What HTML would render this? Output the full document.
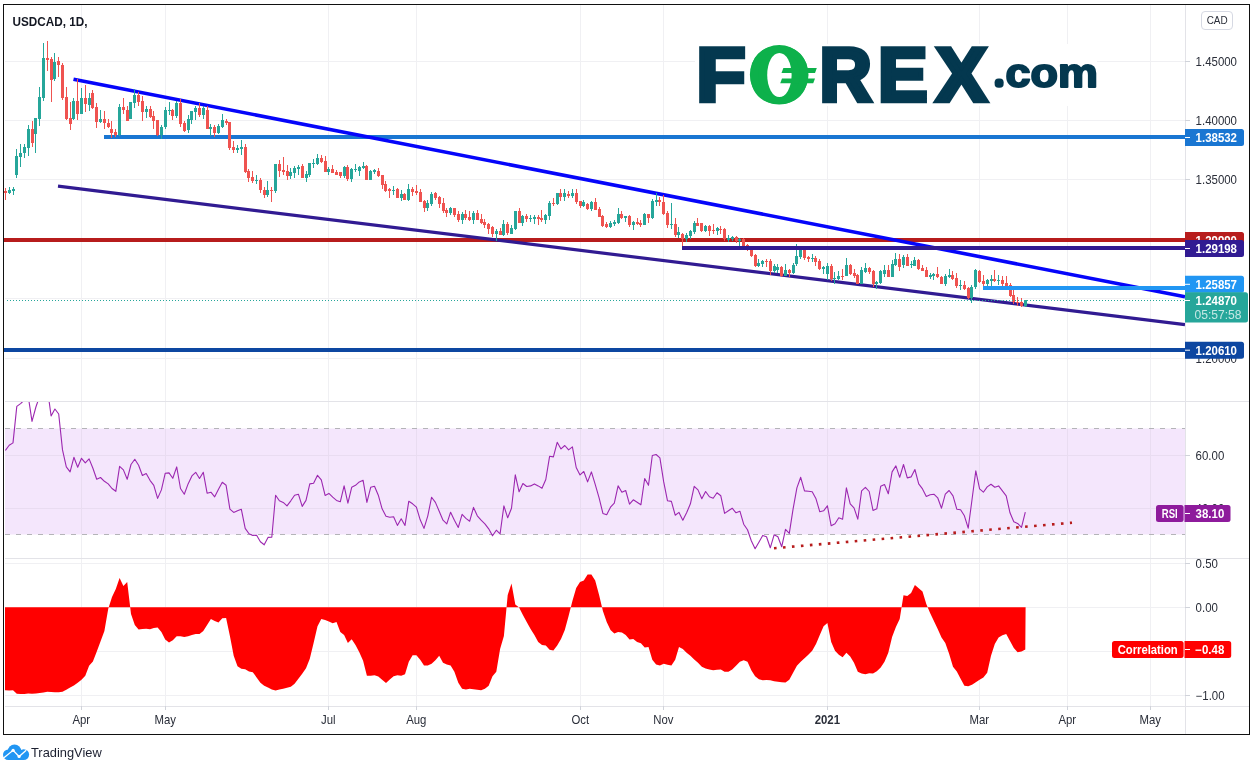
<!DOCTYPE html>
<html lang="en"><head><meta charset="utf-8"><title>USDCAD 1D</title>
<style>html,body{margin:0;padding:0;background:#fff;}body{width:1256px;height:771px;overflow:hidden;font-family:"Liberation Sans",Arial,sans-serif;}svg{display:block;}</style>
</head><body>
<svg width="1256" height="771" viewBox="0 0 1256 771" font-family="Liberation Sans, Arial, sans-serif" shape-rendering="auto">
<rect x="0" y="0" width="1256" height="771" fill="#ffffff"/>
<g id="grid" shape-rendering="crispEdges">
<rect x="81" y="5" width="1" height="701" fill="#f0f0f3"/>
<rect x="165" y="5" width="1" height="701" fill="#f0f0f3"/>
<rect x="328" y="5" width="1" height="701" fill="#f0f0f3"/>
<rect x="416" y="5" width="1" height="701" fill="#f0f0f3"/>
<rect x="580" y="5" width="1" height="701" fill="#f0f0f3"/>
<rect x="663" y="5" width="1" height="701" fill="#f0f0f3"/>
<rect x="827" y="5" width="1" height="701" fill="#f0f0f3"/>
<rect x="979" y="5" width="1" height="701" fill="#f0f0f3"/>
<rect x="1067" y="5" width="1" height="701" fill="#f0f0f3"/>
<rect x="1150" y="5" width="1" height="701" fill="#f0f0f3"/>
<rect x="5" y="61" width="1180" height="1" fill="#f0f0f3"/>
<rect x="5" y="120" width="1180" height="1" fill="#f0f0f3"/>
<rect x="5" y="179" width="1180" height="1" fill="#f0f0f3"/>
<rect x="5" y="239" width="1180" height="1" fill="#f0f0f3"/>
<rect x="5" y="298" width="1180" height="1" fill="#f0f0f3"/>
<rect x="5" y="358" width="1180" height="1" fill="#f0f0f3"/>
<rect x="5" y="455" width="1180" height="1" fill="#f0f0f3"/>
<rect x="5" y="508" width="1180" height="1" fill="#f0f0f3"/>
<rect x="5" y="563" width="1180" height="1" fill="#f0f0f3"/>
<rect x="5" y="607" width="1180" height="1" fill="#f0f0f3"/>
<rect x="5" y="651" width="1180" height="1" fill="#f0f0f3"/>
<rect x="5" y="695" width="1180" height="1" fill="#f0f0f3"/>
</g>
<g id="logo">
<rect x="695" y="44" width="402" height="62" fill="#ffffff"/>
<ellipse cx="779.2" cy="74.7" rx="29.3" ry="29.7" fill="#0db14b"/><ellipse cx="779.4" cy="75" rx="12.2" ry="22.1" fill="#ffffff"/><polygon points="783.4,68 816.8,68 815,72.9 781.5,72.9" fill="#0db14b"/><polygon points="782,78.4 815,78.4 813.2,83.3 780.2,83.3" fill="#0db14b"/><text id="forexlogo"><tspan x="696.38" y="101.0" font-size="76.14" font-weight="bold" fill="#04384f" stroke="#04384f" stroke-width="4.7" stroke-linejoin="miter" textLength="49.37" lengthAdjust="spacingAndGlyphs">F</tspan><tspan x="746.51" y="103.05" font-size="82.21" font-weight="normal" fill="#0db14b" textLength="65.32" lengthAdjust="spacingAndGlyphs">O</tspan><tspan x="819.48" y="101.0" font-size="76.14" font-weight="bold" fill="#04384f" stroke="#04384f" stroke-width="4.7" stroke-linejoin="miter" textLength="52.32" lengthAdjust="spacingAndGlyphs">R</tspan><tspan x="878.11" y="101.0" font-size="76.14" font-weight="bold" fill="#04384f" stroke="#04384f" stroke-width="4.7" stroke-linejoin="miter" textLength="49.61" lengthAdjust="spacingAndGlyphs">E</tspan><tspan x="936.0" y="101.0" font-size="76.14" font-weight="bold" fill="#04384f" stroke="#04384f" stroke-width="4.7" stroke-linejoin="miter" textLength="50.83" lengthAdjust="spacingAndGlyphs">X</tspan><tspan x="997.8" y="83.95" font-size="10.0" font-weight="bold" fill="#04384f" stroke="#04384f" stroke-width="7.6" stroke-linejoin="round" textLength="2.78" lengthAdjust="spacingAndGlyphs">.</tspan><tspan x="1005.64" y="86.75" font-size="39.9" font-weight="bold" fill="#04384f" stroke="#04384f" stroke-width="2.0" stroke-linejoin="round" textLength="92.39" lengthAdjust="spacingAndGlyphs">com</tspan></text>
</g>
<g id="rsi">
<rect x="5" y="428.5" width="1180" height="106" fill="#f4e6fc"/>
<g shape-rendering="crispEdges">
<rect x="5" y="455" width="1180" height="1" fill="#e9dcf1"/>
<rect x="5" y="508" width="1180" height="1" fill="#e9dcf1"/>
<rect x="81" y="429" width="1" height="105" fill="#e9dcf1"/>
<rect x="165" y="429" width="1" height="105" fill="#e9dcf1"/>
<rect x="328" y="429" width="1" height="105" fill="#e9dcf1"/>
<rect x="416" y="429" width="1" height="105" fill="#e9dcf1"/>
<rect x="580" y="429" width="1" height="105" fill="#e9dcf1"/>
<rect x="663" y="429" width="1" height="105" fill="#e9dcf1"/>
<rect x="827" y="429" width="1" height="105" fill="#e9dcf1"/>
<rect x="979" y="429" width="1" height="105" fill="#e9dcf1"/>
<rect x="1067" y="429" width="1" height="105" fill="#e9dcf1"/>
<rect x="1150" y="429" width="1" height="105" fill="#e9dcf1"/>
</g>
<line x1="5" y1="428.5" x2="1185" y2="428.5" stroke="#b4b4b8" stroke-width="1" stroke-dasharray="5 6"/>
<line x1="5" y1="534.5" x2="1185" y2="534.5" stroke="#b4b4b8" stroke-width="1" stroke-dasharray="5 6"/>
</g>
<rect x="4" y="238" width="1181" height="4" fill="#b71c1c"/>
<rect x="104" y="135" width="1081" height="4" fill="#1976d2"/>
<line x1="73.5" y1="79.3" x2="1185" y2="296.8" stroke="#0505fa" stroke-width="3.6"/>
<line x1="58" y1="186.2" x2="1185" y2="324.6" stroke="#311b92" stroke-width="3.2"/>
<g id="candles" shape-rendering="crispEdges">
<rect x="5" y="187.5" width="1" height="12.8" fill="#ef5350"/>
<rect x="4" y="191.0" width="3" height="2.3" fill="#ef5350"/>
<rect x="9" y="186.8" width="1" height="7.0" fill="#26a69a"/>
<rect x="8" y="189.9" width="3" height="3.5" fill="#26a69a"/>
<rect x="13" y="186.8" width="1" height="7.7" fill="#26a69a"/>
<rect x="12" y="189.4" width="3" height="1.6" fill="#26a69a"/>
<rect x="16" y="149.0" width="1" height="28.7" fill="#26a69a"/>
<rect x="15" y="156.0" width="3" height="18.7" fill="#26a69a"/>
<rect x="20" y="144.4" width="1" height="22.2" fill="#26a69a"/>
<rect x="19" y="152.5" width="3" height="4.7" fill="#26a69a"/>
<rect x="24" y="143.9" width="1" height="14.5" fill="#26a69a"/>
<rect x="23" y="147.4" width="3" height="5.6" fill="#26a69a"/>
<rect x="28" y="124.5" width="1" height="31.5" fill="#26a69a"/>
<rect x="27" y="129.2" width="3" height="18.7" fill="#26a69a"/>
<rect x="32" y="121.0" width="1" height="25.7" fill="#ef5350"/>
<rect x="31" y="128.7" width="3" height="14.5" fill="#ef5350"/>
<rect x="35" y="118.0" width="1" height="34.5" fill="#26a69a"/>
<rect x="34" y="118.0" width="3" height="15.9" fill="#26a69a"/>
<rect x="39" y="87.2" width="1" height="38.5" fill="#26a69a"/>
<rect x="38" y="96.5" width="3" height="22.2" fill="#26a69a"/>
<rect x="43" y="42.8" width="1" height="58.3" fill="#26a69a"/>
<rect x="42" y="58.0" width="3" height="39.7" fill="#26a69a"/>
<rect x="47" y="41.0" width="1" height="29.9" fill="#ef5350"/>
<rect x="46" y="58.0" width="3" height="1.9" fill="#ef5350"/>
<rect x="51" y="56.8" width="1" height="45.5" fill="#ef5350"/>
<rect x="50" y="59.2" width="3" height="21.0" fill="#ef5350"/>
<rect x="54" y="52.9" width="1" height="28.0" fill="#26a69a"/>
<rect x="53" y="61.5" width="3" height="17.5" fill="#26a69a"/>
<rect x="58" y="56.8" width="1" height="19.8" fill="#ef5350"/>
<rect x="57" y="61.0" width="3" height="4.4" fill="#ef5350"/>
<rect x="62" y="62.7" width="1" height="37.3" fill="#ef5350"/>
<rect x="61" y="64.5" width="3" height="33.1" fill="#ef5350"/>
<rect x="66" y="87.2" width="1" height="32.7" fill="#ef5350"/>
<rect x="65" y="97.2" width="3" height="21.9" fill="#ef5350"/>
<rect x="70" y="102.3" width="1" height="27.5" fill="#ef5350"/>
<rect x="69" y="117.5" width="3" height="6.3" fill="#ef5350"/>
<rect x="73" y="98.1" width="1" height="21.7" fill="#26a69a"/>
<rect x="72" y="101.2" width="3" height="17.5" fill="#26a69a"/>
<rect x="77" y="79.0" width="1" height="40.8" fill="#ef5350"/>
<rect x="76" y="101.2" width="3" height="12.4" fill="#ef5350"/>
<rect x="81" y="87.9" width="1" height="26.1" fill="#26a69a"/>
<rect x="80" y="98.1" width="3" height="15.4" fill="#26a69a"/>
<rect x="85" y="84.8" width="1" height="26.8" fill="#ef5350"/>
<rect x="84" y="98.1" width="3" height="6.1" fill="#ef5350"/>
<rect x="89" y="93.0" width="1" height="17.5" fill="#26a69a"/>
<rect x="88" y="97.7" width="3" height="7.0" fill="#26a69a"/>
<rect x="92" y="89.5" width="1" height="19.8" fill="#ef5350"/>
<rect x="91" y="93.0" width="3" height="14.5" fill="#ef5350"/>
<rect x="96" y="102.8" width="1" height="25.2" fill="#ef5350"/>
<rect x="95" y="106.5" width="3" height="15.6" fill="#ef5350"/>
<rect x="100" y="110.0" width="1" height="12.8" fill="#26a69a"/>
<rect x="99" y="118.7" width="3" height="3.5" fill="#26a69a"/>
<rect x="104" y="111.0" width="1" height="18.2" fill="#ef5350"/>
<rect x="103" y="118.7" width="3" height="4.7" fill="#ef5350"/>
<rect x="108" y="119.4" width="1" height="8.6" fill="#ef5350"/>
<rect x="107" y="123.3" width="3" height="3.5" fill="#ef5350"/>
<rect x="111" y="120.5" width="1" height="17.3" fill="#ef5350"/>
<rect x="110" y="129.2" width="3" height="3.5" fill="#ef5350"/>
<rect x="115" y="129.2" width="1" height="7.7" fill="#ef5350"/>
<rect x="114" y="132.0" width="3" height="3.0" fill="#ef5350"/>
<rect x="119" y="104.2" width="1" height="32.0" fill="#26a69a"/>
<rect x="118" y="107.0" width="3" height="28.0" fill="#26a69a"/>
<rect x="123" y="98.4" width="1" height="15.1" fill="#ef5350"/>
<rect x="122" y="107.2" width="3" height="3.1" fill="#ef5350"/>
<rect x="127" y="106.4" width="1" height="14.3" fill="#ef5350"/>
<rect x="126" y="110.3" width="3" height="10.4" fill="#ef5350"/>
<rect x="130" y="102.2" width="1" height="16.6" fill="#26a69a"/>
<rect x="129" y="102.2" width="3" height="16.3" fill="#26a69a"/>
<rect x="134" y="89.3" width="1" height="18.4" fill="#26a69a"/>
<rect x="133" y="95.1" width="3" height="7.5" fill="#26a69a"/>
<rect x="138" y="92.1" width="1" height="14.3" fill="#ef5350"/>
<rect x="137" y="95.1" width="3" height="6.7" fill="#ef5350"/>
<rect x="142" y="96.0" width="1" height="24.7" fill="#ef5350"/>
<rect x="141" y="101.0" width="3" height="10.6" fill="#ef5350"/>
<rect x="146" y="106.1" width="1" height="11.7" fill="#26a69a"/>
<rect x="145" y="108.8" width="3" height="3.1" fill="#26a69a"/>
<rect x="150" y="106.1" width="1" height="11.7" fill="#ef5350"/>
<rect x="149" y="108.8" width="3" height="7.8" fill="#ef5350"/>
<rect x="153" y="111.1" width="1" height="17.4" fill="#ef5350"/>
<rect x="152" y="116.1" width="3" height="4.7" fill="#ef5350"/>
<rect x="157" y="120.1" width="1" height="15.6" fill="#ef5350"/>
<rect x="156" y="120.1" width="3" height="14.6" fill="#ef5350"/>
<rect x="161" y="125.1" width="1" height="13.7" fill="#26a69a"/>
<rect x="160" y="126.7" width="3" height="8.1" fill="#26a69a"/>
<rect x="165" y="106.9" width="1" height="22.1" fill="#26a69a"/>
<rect x="164" y="110.0" width="3" height="17.4" fill="#26a69a"/>
<rect x="169" y="102.2" width="1" height="12.8" fill="#26a69a"/>
<rect x="168" y="109.6" width="3" height="1.1" fill="#26a69a"/>
<rect x="172" y="108.8" width="1" height="10.9" fill="#ef5350"/>
<rect x="171" y="110.0" width="3" height="5.8" fill="#ef5350"/>
<rect x="176" y="101.0" width="1" height="16.8" fill="#26a69a"/>
<rect x="175" y="102.6" width="3" height="13.5" fill="#26a69a"/>
<rect x="180" y="99.0" width="1" height="27.7" fill="#ef5350"/>
<rect x="179" y="103.0" width="3" height="20.8" fill="#ef5350"/>
<rect x="184" y="121.2" width="1" height="10.4" fill="#ef5350"/>
<rect x="183" y="123.2" width="3" height="7.3" fill="#ef5350"/>
<rect x="188" y="115.3" width="1" height="17.6" fill="#26a69a"/>
<rect x="187" y="119.2" width="3" height="10.3" fill="#26a69a"/>
<rect x="191" y="111.1" width="1" height="12.4" fill="#26a69a"/>
<rect x="190" y="111.1" width="3" height="8.6" fill="#26a69a"/>
<rect x="195" y="106.1" width="1" height="13.5" fill="#26a69a"/>
<rect x="194" y="108.0" width="3" height="3.6" fill="#26a69a"/>
<rect x="199" y="102.9" width="1" height="14.0" fill="#ef5350"/>
<rect x="198" y="108.0" width="3" height="7.0" fill="#ef5350"/>
<rect x="203" y="106.1" width="1" height="12.8" fill="#26a69a"/>
<rect x="202" y="108.0" width="3" height="7.0" fill="#26a69a"/>
<rect x="207" y="106.1" width="1" height="22.9" fill="#ef5350"/>
<rect x="206" y="109.9" width="3" height="18.7" fill="#ef5350"/>
<rect x="210" y="124.3" width="1" height="12.0" fill="#26a69a"/>
<rect x="209" y="127.4" width="3" height="1.6" fill="#26a69a"/>
<rect x="214" y="125.1" width="1" height="11.7" fill="#ef5350"/>
<rect x="213" y="127.1" width="3" height="5.8" fill="#ef5350"/>
<rect x="218" y="124.0" width="1" height="10.0" fill="#26a69a"/>
<rect x="217" y="125.9" width="3" height="7.0" fill="#26a69a"/>
<rect x="222" y="114.2" width="1" height="13.5" fill="#26a69a"/>
<rect x="221" y="120.1" width="3" height="6.5" fill="#26a69a"/>
<rect x="226" y="118.9" width="1" height="6.2" fill="#ef5350"/>
<rect x="225" y="121.2" width="3" height="1.6" fill="#ef5350"/>
<rect x="229" y="122.0" width="1" height="27.7" fill="#ef5350"/>
<rect x="228" y="122.0" width="3" height="26.0" fill="#ef5350"/>
<rect x="233" y="141.1" width="1" height="11.7" fill="#ef5350"/>
<rect x="232" y="146.9" width="3" height="3.4" fill="#ef5350"/>
<rect x="237" y="145.3" width="1" height="7.5" fill="#26a69a"/>
<rect x="236" y="148.4" width="3" height="1.9" fill="#26a69a"/>
<rect x="241" y="140.2" width="1" height="14.5" fill="#26a69a"/>
<rect x="240" y="147.4" width="3" height="1.9" fill="#26a69a"/>
<rect x="245" y="144.1" width="1" height="29.2" fill="#ef5350"/>
<rect x="244" y="146.9" width="3" height="24.9" fill="#ef5350"/>
<rect x="248" y="169.1" width="1" height="12.8" fill="#ef5350"/>
<rect x="247" y="171.0" width="3" height="6.7" fill="#ef5350"/>
<rect x="252" y="171.2" width="1" height="11.7" fill="#ef5350"/>
<rect x="251" y="177.4" width="3" height="3.3" fill="#ef5350"/>
<rect x="256" y="175.1" width="1" height="8.9" fill="#26a69a"/>
<rect x="255" y="179.6" width="3" height="1.4" fill="#26a69a"/>
<rect x="260" y="178.2" width="1" height="14.8" fill="#ef5350"/>
<rect x="259" y="179.8" width="3" height="10.4" fill="#ef5350"/>
<rect x="264" y="187.1" width="1" height="10.9" fill="#ef5350"/>
<rect x="263" y="190.0" width="3" height="5.2" fill="#ef5350"/>
<rect x="267" y="181.1" width="1" height="15.8" fill="#26a69a"/>
<rect x="266" y="190.0" width="3" height="5.2" fill="#26a69a"/>
<rect x="271" y="187.1" width="1" height="14.8" fill="#ef5350"/>
<rect x="270" y="190.0" width="3" height="1.1" fill="#ef5350"/>
<rect x="275" y="164.0" width="1" height="29.0" fill="#26a69a"/>
<rect x="274" y="164.0" width="3" height="27.1" fill="#26a69a"/>
<rect x="279" y="160.1" width="1" height="16.7" fill="#ef5350"/>
<rect x="278" y="164.0" width="3" height="7.0" fill="#ef5350"/>
<rect x="283" y="157.1" width="1" height="17.7" fill="#ef5350"/>
<rect x="282" y="170.1" width="3" height="2.0" fill="#ef5350"/>
<rect x="287" y="165.1" width="1" height="14.8" fill="#ef5350"/>
<rect x="286" y="171.0" width="3" height="5.2" fill="#ef5350"/>
<rect x="290" y="168.1" width="1" height="10.9" fill="#26a69a"/>
<rect x="289" y="171.8" width="3" height="4.1" fill="#26a69a"/>
<rect x="294" y="166.0" width="1" height="11.9" fill="#26a69a"/>
<rect x="293" y="167.9" width="3" height="5.0" fill="#26a69a"/>
<rect x="298" y="165.1" width="1" height="9.8" fill="#26a69a"/>
<rect x="297" y="167.1" width="3" height="1.7" fill="#26a69a"/>
<rect x="302" y="164.0" width="1" height="13.9" fill="#ef5350"/>
<rect x="301" y="165.9" width="3" height="12.0" fill="#ef5350"/>
<rect x="306" y="171.0" width="1" height="10.8" fill="#26a69a"/>
<rect x="305" y="174.0" width="3" height="3.7" fill="#26a69a"/>
<rect x="309" y="163.1" width="1" height="13.7" fill="#26a69a"/>
<rect x="308" y="163.1" width="3" height="12.0" fill="#26a69a"/>
<rect x="313" y="159.0" width="1" height="8.9" fill="#26a69a"/>
<rect x="312" y="162.7" width="3" height="1.3" fill="#26a69a"/>
<rect x="317" y="154.0" width="1" height="11.1" fill="#26a69a"/>
<rect x="316" y="157.9" width="3" height="6.1" fill="#26a69a"/>
<rect x="321" y="155.1" width="1" height="8.0" fill="#ef5350"/>
<rect x="320" y="158.1" width="3" height="3.7" fill="#ef5350"/>
<rect x="325" y="156.2" width="1" height="15.6" fill="#ef5350"/>
<rect x="324" y="161.2" width="3" height="10.6" fill="#ef5350"/>
<rect x="328" y="167.1" width="1" height="7.8" fill="#26a69a"/>
<rect x="327" y="169.0" width="3" height="3.1" fill="#26a69a"/>
<rect x="332" y="165.1" width="1" height="7.8" fill="#ef5350"/>
<rect x="331" y="169.0" width="3" height="3.9" fill="#ef5350"/>
<rect x="336" y="170.1" width="1" height="4.7" fill="#ef5350"/>
<rect x="335" y="171.8" width="3" height="3.0" fill="#ef5350"/>
<rect x="340" y="172.1" width="1" height="5.8" fill="#ef5350"/>
<rect x="339" y="172.1" width="3" height="3.8" fill="#ef5350"/>
<rect x="344" y="165.9" width="1" height="12.0" fill="#26a69a"/>
<rect x="343" y="167.1" width="3" height="8.8" fill="#26a69a"/>
<rect x="347" y="165.1" width="1" height="15.8" fill="#ef5350"/>
<rect x="346" y="167.1" width="3" height="11.7" fill="#ef5350"/>
<rect x="351" y="167.9" width="1" height="14.2" fill="#26a69a"/>
<rect x="350" y="169.0" width="3" height="10.0" fill="#26a69a"/>
<rect x="355" y="164.0" width="1" height="7.8" fill="#26a69a"/>
<rect x="354" y="168.8" width="3" height="1.1" fill="#26a69a"/>
<rect x="359" y="165.9" width="1" height="10.0" fill="#26a69a"/>
<rect x="358" y="167.1" width="3" height="3.6" fill="#26a69a"/>
<rect x="363" y="162.1" width="1" height="6.9" fill="#26a69a"/>
<rect x="362" y="165.9" width="3" height="2.0" fill="#26a69a"/>
<rect x="366" y="165.1" width="1" height="14.7" fill="#ef5350"/>
<rect x="365" y="165.9" width="3" height="13.9" fill="#ef5350"/>
<rect x="370" y="170.1" width="1" height="9.7" fill="#26a69a"/>
<rect x="369" y="171.0" width="3" height="8.8" fill="#26a69a"/>
<rect x="374" y="169.0" width="1" height="5.0" fill="#26a69a"/>
<rect x="373" y="170.1" width="3" height="1.7" fill="#26a69a"/>
<rect x="378" y="168.1" width="1" height="8.7" fill="#ef5350"/>
<rect x="377" y="171.0" width="3" height="4.9" fill="#ef5350"/>
<rect x="382" y="175.1" width="1" height="13.9" fill="#ef5350"/>
<rect x="381" y="175.1" width="3" height="9.7" fill="#ef5350"/>
<rect x="385" y="181.2" width="1" height="10.6" fill="#ef5350"/>
<rect x="384" y="183.9" width="3" height="6.7" fill="#ef5350"/>
<rect x="389" y="187.9" width="1" height="10.0" fill="#ef5350"/>
<rect x="388" y="188.7" width="3" height="1.9" fill="#ef5350"/>
<rect x="393" y="186.2" width="1" height="8.7" fill="#26a69a"/>
<rect x="392" y="189.7" width="3" height="1.4" fill="#26a69a"/>
<rect x="397" y="187.9" width="1" height="9.8" fill="#ef5350"/>
<rect x="396" y="189.0" width="3" height="8.7" fill="#ef5350"/>
<rect x="401" y="190.1" width="1" height="10.6" fill="#26a69a"/>
<rect x="400" y="194.2" width="3" height="3.7" fill="#26a69a"/>
<rect x="404" y="192.9" width="1" height="6.9" fill="#ef5350"/>
<rect x="403" y="194.0" width="3" height="5.8" fill="#ef5350"/>
<rect x="408" y="184.2" width="1" height="16.7" fill="#26a69a"/>
<rect x="407" y="189.0" width="3" height="11.1" fill="#26a69a"/>
<rect x="412" y="187.0" width="1" height="8.7" fill="#ef5350"/>
<rect x="411" y="189.0" width="3" height="3.0" fill="#ef5350"/>
<rect x="416" y="185.1" width="1" height="9.8" fill="#ef5350"/>
<rect x="415" y="191.2" width="3" height="1.7" fill="#ef5350"/>
<rect x="420" y="189.0" width="1" height="12.8" fill="#ef5350"/>
<rect x="419" y="192.0" width="3" height="9.8" fill="#ef5350"/>
<rect x="424" y="200.1" width="1" height="11.7" fill="#ef5350"/>
<rect x="423" y="200.9" width="3" height="7.0" fill="#ef5350"/>
<rect x="427" y="200.1" width="1" height="10.6" fill="#26a69a"/>
<rect x="426" y="203.1" width="3" height="4.8" fill="#26a69a"/>
<rect x="431" y="192.0" width="1" height="13.9" fill="#26a69a"/>
<rect x="430" y="193.8" width="3" height="10.3" fill="#26a69a"/>
<rect x="435" y="192.0" width="1" height="7.8" fill="#ef5350"/>
<rect x="434" y="192.9" width="3" height="5.0" fill="#ef5350"/>
<rect x="439" y="196.0" width="1" height="11.9" fill="#ef5350"/>
<rect x="438" y="197.0" width="3" height="7.0" fill="#ef5350"/>
<rect x="443" y="198.1" width="1" height="14.8" fill="#ef5350"/>
<rect x="442" y="203.1" width="3" height="7.8" fill="#ef5350"/>
<rect x="446" y="207.9" width="1" height="8.9" fill="#ef5350"/>
<rect x="445" y="209.9" width="3" height="3.0" fill="#ef5350"/>
<rect x="450" y="207.1" width="1" height="7.8" fill="#26a69a"/>
<rect x="449" y="207.9" width="3" height="5.0" fill="#26a69a"/>
<rect x="454" y="208.1" width="1" height="8.7" fill="#ef5350"/>
<rect x="453" y="208.1" width="3" height="6.8" fill="#ef5350"/>
<rect x="458" y="210.9" width="1" height="10.9" fill="#ef5350"/>
<rect x="457" y="214.0" width="3" height="5.8" fill="#ef5350"/>
<rect x="462" y="212.0" width="1" height="11.8" fill="#26a69a"/>
<rect x="461" y="214.0" width="3" height="5.8" fill="#26a69a"/>
<rect x="465" y="209.9" width="1" height="9.9" fill="#ef5350"/>
<rect x="464" y="214.0" width="3" height="3.9" fill="#ef5350"/>
<rect x="469" y="210.9" width="1" height="9.8" fill="#ef5350"/>
<rect x="468" y="217.1" width="3" height="2.8" fill="#ef5350"/>
<rect x="473" y="210.9" width="1" height="12.9" fill="#26a69a"/>
<rect x="472" y="212.9" width="3" height="6.9" fill="#26a69a"/>
<rect x="477" y="209.9" width="1" height="9.9" fill="#ef5350"/>
<rect x="476" y="212.9" width="3" height="6.9" fill="#ef5350"/>
<rect x="481" y="214.0" width="1" height="9.8" fill="#ef5350"/>
<rect x="480" y="219.1" width="3" height="3.9" fill="#ef5350"/>
<rect x="484" y="219.1" width="1" height="8.9" fill="#ef5350"/>
<rect x="483" y="222.2" width="3" height="2.8" fill="#ef5350"/>
<rect x="488" y="223.0" width="1" height="10.9" fill="#ef5350"/>
<rect x="487" y="224.1" width="3" height="5.0" fill="#ef5350"/>
<rect x="492" y="226.0" width="1" height="10.9" fill="#ef5350"/>
<rect x="491" y="226.9" width="3" height="7.0" fill="#ef5350"/>
<rect x="496" y="229.1" width="1" height="11.9" fill="#26a69a"/>
<rect x="495" y="231.0" width="3" height="2.9" fill="#26a69a"/>
<rect x="500" y="228.0" width="1" height="6.9" fill="#ef5350"/>
<rect x="499" y="231.0" width="3" height="3.9" fill="#ef5350"/>
<rect x="503" y="220.2" width="1" height="15.8" fill="#26a69a"/>
<rect x="502" y="224.1" width="3" height="10.8" fill="#26a69a"/>
<rect x="507" y="222.2" width="1" height="12.7" fill="#ef5350"/>
<rect x="506" y="224.1" width="3" height="8.9" fill="#ef5350"/>
<rect x="511" y="225.2" width="1" height="8.7" fill="#26a69a"/>
<rect x="510" y="228.0" width="3" height="5.9" fill="#26a69a"/>
<rect x="515" y="211.2" width="1" height="18.9" fill="#26a69a"/>
<rect x="514" y="211.2" width="3" height="17.8" fill="#26a69a"/>
<rect x="519" y="208.1" width="1" height="14.5" fill="#ef5350"/>
<rect x="518" y="211.0" width="3" height="11.6" fill="#ef5350"/>
<rect x="522" y="214.9" width="1" height="10.8" fill="#26a69a"/>
<rect x="521" y="215.9" width="3" height="7.0" fill="#26a69a"/>
<rect x="526" y="214.0" width="1" height="7.8" fill="#ef5350"/>
<rect x="525" y="215.9" width="3" height="3.1" fill="#ef5350"/>
<rect x="530" y="214.9" width="1" height="7.1" fill="#26a69a"/>
<rect x="529" y="217.9" width="3" height="1.1" fill="#26a69a"/>
<rect x="534" y="214.9" width="1" height="9.1" fill="#26a69a"/>
<rect x="533" y="217.0" width="3" height="2.0" fill="#26a69a"/>
<rect x="538" y="214.9" width="1" height="9.9" fill="#ef5350"/>
<rect x="537" y="217.0" width="3" height="2.0" fill="#ef5350"/>
<rect x="541" y="210.1" width="1" height="11.9" fill="#ef5350"/>
<rect x="540" y="218.2" width="3" height="1.8" fill="#ef5350"/>
<rect x="545" y="214.0" width="1" height="10.0" fill="#26a69a"/>
<rect x="544" y="214.9" width="3" height="5.0" fill="#26a69a"/>
<rect x="549" y="201.0" width="1" height="18.9" fill="#26a69a"/>
<rect x="548" y="203.1" width="3" height="12.8" fill="#26a69a"/>
<rect x="553" y="198.1" width="1" height="7.8" fill="#ef5350"/>
<rect x="552" y="203.1" width="3" height="1.1" fill="#ef5350"/>
<rect x="557" y="193.2" width="1" height="11.9" fill="#26a69a"/>
<rect x="556" y="193.2" width="3" height="10.8" fill="#26a69a"/>
<rect x="560" y="189.2" width="1" height="11.8" fill="#ef5350"/>
<rect x="559" y="193.2" width="3" height="3.8" fill="#ef5350"/>
<rect x="564" y="189.2" width="1" height="11.8" fill="#26a69a"/>
<rect x="563" y="193.2" width="3" height="3.8" fill="#26a69a"/>
<rect x="568" y="191.2" width="1" height="6.7" fill="#ef5350"/>
<rect x="567" y="194.0" width="3" height="1.9" fill="#ef5350"/>
<rect x="572" y="189.2" width="1" height="8.7" fill="#26a69a"/>
<rect x="571" y="193.2" width="3" height="2.7" fill="#26a69a"/>
<rect x="576" y="189.2" width="1" height="14.8" fill="#ef5350"/>
<rect x="575" y="193.2" width="3" height="8.8" fill="#ef5350"/>
<rect x="580" y="201.2" width="1" height="6.7" fill="#ef5350"/>
<rect x="579" y="201.2" width="3" height="4.7" fill="#ef5350"/>
<rect x="583" y="200.1" width="1" height="6.9" fill="#26a69a"/>
<rect x="582" y="202.3" width="3" height="3.6" fill="#26a69a"/>
<rect x="587" y="203.1" width="1" height="6.8" fill="#ef5350"/>
<rect x="586" y="204.0" width="3" height="5.0" fill="#ef5350"/>
<rect x="591" y="201.0" width="1" height="9.9" fill="#26a69a"/>
<rect x="590" y="202.0" width="3" height="7.0" fill="#26a69a"/>
<rect x="595" y="198.1" width="1" height="11.8" fill="#ef5350"/>
<rect x="594" y="202.3" width="3" height="7.6" fill="#ef5350"/>
<rect x="599" y="207.0" width="1" height="9.8" fill="#ef5350"/>
<rect x="598" y="209.0" width="3" height="7.8" fill="#ef5350"/>
<rect x="602" y="214.9" width="1" height="11.9" fill="#ef5350"/>
<rect x="601" y="215.9" width="3" height="9.8" fill="#ef5350"/>
<rect x="606" y="222.1" width="1" height="5.9" fill="#ef5350"/>
<rect x="605" y="224.1" width="3" height="2.8" fill="#ef5350"/>
<rect x="610" y="221.1" width="1" height="6.9" fill="#26a69a"/>
<rect x="609" y="222.9" width="3" height="3.9" fill="#26a69a"/>
<rect x="614" y="220.2" width="1" height="5.6" fill="#26a69a"/>
<rect x="613" y="222.1" width="3" height="2.0" fill="#26a69a"/>
<rect x="618" y="208.1" width="1" height="15.9" fill="#26a69a"/>
<rect x="617" y="214.0" width="3" height="8.9" fill="#26a69a"/>
<rect x="621" y="211.0" width="1" height="8.0" fill="#ef5350"/>
<rect x="620" y="214.0" width="3" height="3.9" fill="#ef5350"/>
<rect x="625" y="216.3" width="1" height="5.8" fill="#26a69a"/>
<rect x="624" y="216.3" width="3" height="1.7" fill="#26a69a"/>
<rect x="629" y="214.9" width="1" height="11.9" fill="#ef5350"/>
<rect x="628" y="215.9" width="3" height="8.9" fill="#ef5350"/>
<rect x="633" y="221.1" width="1" height="8.9" fill="#26a69a"/>
<rect x="632" y="222.1" width="3" height="2.8" fill="#26a69a"/>
<rect x="637" y="218.2" width="1" height="6.7" fill="#ef5350"/>
<rect x="636" y="222.1" width="3" height="2.0" fill="#ef5350"/>
<rect x="640" y="220.2" width="1" height="6.7" fill="#ef5350"/>
<rect x="639" y="223.2" width="3" height="1.7" fill="#ef5350"/>
<rect x="644" y="212.5" width="1" height="12.1" fill="#26a69a"/>
<rect x="643" y="214.2" width="3" height="10.4" fill="#26a69a"/>
<rect x="648" y="214.2" width="1" height="8.4" fill="#ef5350"/>
<rect x="647" y="214.2" width="3" height="3.9" fill="#ef5350"/>
<rect x="652" y="199.3" width="1" height="19.7" fill="#26a69a"/>
<rect x="651" y="200.8" width="3" height="17.3" fill="#26a69a"/>
<rect x="656" y="193.0" width="1" height="13.4" fill="#26a69a"/>
<rect x="655" y="200.3" width="3" height="1.6" fill="#26a69a"/>
<rect x="659" y="196.9" width="1" height="9.5" fill="#ef5350"/>
<rect x="658" y="200.3" width="3" height="1.6" fill="#ef5350"/>
<rect x="663" y="195.1" width="1" height="19.7" fill="#ef5350"/>
<rect x="662" y="201.9" width="3" height="11.9" fill="#ef5350"/>
<rect x="667" y="210.9" width="1" height="16.9" fill="#ef5350"/>
<rect x="666" y="212.9" width="3" height="11.7" fill="#ef5350"/>
<rect x="671" y="203.2" width="1" height="25.3" fill="#26a69a"/>
<rect x="670" y="223.7" width="3" height="1.3" fill="#26a69a"/>
<rect x="675" y="218.1" width="1" height="18.8" fill="#ef5350"/>
<rect x="674" y="223.9" width="3" height="11.0" fill="#ef5350"/>
<rect x="678" y="227.2" width="1" height="10.4" fill="#26a69a"/>
<rect x="677" y="232.3" width="3" height="2.6" fill="#26a69a"/>
<rect x="682" y="233.0" width="1" height="13.0" fill="#ef5350"/>
<rect x="681" y="234.0" width="3" height="5.4" fill="#ef5350"/>
<rect x="686" y="233.0" width="1" height="9.1" fill="#26a69a"/>
<rect x="685" y="234.9" width="3" height="4.5" fill="#26a69a"/>
<rect x="690" y="230.0" width="1" height="8.8" fill="#26a69a"/>
<rect x="689" y="231.0" width="3" height="4.5" fill="#26a69a"/>
<rect x="694" y="221.1" width="1" height="13.0" fill="#26a69a"/>
<rect x="693" y="222.9" width="3" height="8.8" fill="#26a69a"/>
<rect x="697" y="218.1" width="1" height="7.8" fill="#ef5350"/>
<rect x="696" y="222.9" width="3" height="3.0" fill="#ef5350"/>
<rect x="701" y="222.9" width="1" height="9.1" fill="#ef5350"/>
<rect x="700" y="222.9" width="3" height="8.2" fill="#ef5350"/>
<rect x="705" y="224.9" width="1" height="7.0" fill="#26a69a"/>
<rect x="704" y="225.9" width="3" height="5.2" fill="#26a69a"/>
<rect x="709" y="224.9" width="1" height="10.9" fill="#ef5350"/>
<rect x="708" y="225.9" width="3" height="5.2" fill="#ef5350"/>
<rect x="713" y="223.9" width="1" height="10.1" fill="#ef5350"/>
<rect x="712" y="229.7" width="3" height="1.0" fill="#ef5350"/>
<rect x="717" y="226.8" width="1" height="8.2" fill="#26a69a"/>
<rect x="716" y="227.8" width="3" height="2.9" fill="#26a69a"/>
<rect x="720" y="225.9" width="1" height="8.2" fill="#ef5350"/>
<rect x="719" y="228.8" width="3" height="1.3" fill="#ef5350"/>
<rect x="724" y="227.8" width="1" height="13.0" fill="#ef5350"/>
<rect x="723" y="228.8" width="3" height="10.6" fill="#ef5350"/>
<rect x="728" y="234.9" width="1" height="6.9" fill="#26a69a"/>
<rect x="727" y="238.2" width="3" height="1.3" fill="#26a69a"/>
<rect x="732" y="236.0" width="1" height="4.8" fill="#26a69a"/>
<rect x="731" y="236.9" width="3" height="2.3" fill="#26a69a"/>
<rect x="736" y="236.0" width="1" height="6.7" fill="#ef5350"/>
<rect x="735" y="236.9" width="3" height="4.2" fill="#ef5350"/>
<rect x="739" y="238.2" width="1" height="7.8" fill="#26a69a"/>
<rect x="738" y="239.2" width="3" height="1.8" fill="#26a69a"/>
<rect x="743" y="237.9" width="1" height="8.0" fill="#ef5350"/>
<rect x="742" y="239.2" width="3" height="6.7" fill="#ef5350"/>
<rect x="747" y="244.0" width="1" height="6.9" fill="#ef5350"/>
<rect x="746" y="244.9" width="3" height="1.0" fill="#ef5350"/>
<rect x="751" y="249.9" width="1" height="7.1" fill="#ef5350"/>
<rect x="750" y="249.9" width="3" height="5.8" fill="#ef5350"/>
<rect x="755" y="254.0" width="1" height="13.0" fill="#ef5350"/>
<rect x="754" y="255.0" width="3" height="10.6" fill="#ef5350"/>
<rect x="758" y="258.9" width="1" height="8.0" fill="#26a69a"/>
<rect x="757" y="262.8" width="3" height="3.2" fill="#26a69a"/>
<rect x="762" y="260.0" width="1" height="6.7" fill="#26a69a"/>
<rect x="761" y="260.9" width="3" height="3.0" fill="#26a69a"/>
<rect x="766" y="258.9" width="1" height="7.8" fill="#ef5350"/>
<rect x="765" y="260.9" width="3" height="1.0" fill="#ef5350"/>
<rect x="770" y="258.9" width="1" height="15.8" fill="#ef5350"/>
<rect x="769" y="260.9" width="3" height="9.7" fill="#ef5350"/>
<rect x="774" y="264.0" width="1" height="8.7" fill="#26a69a"/>
<rect x="773" y="266.0" width="3" height="4.7" fill="#26a69a"/>
<rect x="777" y="264.0" width="1" height="8.8" fill="#26a69a"/>
<rect x="776" y="267.1" width="3" height="2.5" fill="#26a69a"/>
<rect x="781" y="266.0" width="1" height="10.8" fill="#ef5350"/>
<rect x="780" y="267.1" width="3" height="8.9" fill="#ef5350"/>
<rect x="785" y="264.0" width="1" height="11.7" fill="#26a69a"/>
<rect x="784" y="270.1" width="3" height="5.6" fill="#26a69a"/>
<rect x="789" y="269.0" width="1" height="8.0" fill="#ef5350"/>
<rect x="788" y="270.1" width="3" height="2.8" fill="#ef5350"/>
<rect x="793" y="263.1" width="1" height="10.9" fill="#26a69a"/>
<rect x="792" y="265.1" width="3" height="7.8" fill="#26a69a"/>
<rect x="796" y="244.2" width="1" height="21.7" fill="#26a69a"/>
<rect x="795" y="256.2" width="3" height="7.8" fill="#26a69a"/>
<rect x="800" y="249.0" width="1" height="10.0" fill="#26a69a"/>
<rect x="799" y="249.0" width="3" height="8.0" fill="#26a69a"/>
<rect x="804" y="249.5" width="1" height="10.6" fill="#ef5350"/>
<rect x="803" y="249.5" width="3" height="8.6" fill="#ef5350"/>
<rect x="808" y="256.0" width="1" height="6.0" fill="#ef5350"/>
<rect x="807" y="257.0" width="3" height="2.0" fill="#ef5350"/>
<rect x="812" y="254.0" width="1" height="8.0" fill="#26a69a"/>
<rect x="811" y="257.7" width="3" height="1.0" fill="#26a69a"/>
<rect x="815" y="256.0" width="1" height="9.9" fill="#ef5350"/>
<rect x="814" y="257.7" width="3" height="4.1" fill="#ef5350"/>
<rect x="819" y="259.0" width="1" height="10.9" fill="#ef5350"/>
<rect x="818" y="260.9" width="3" height="8.1" fill="#ef5350"/>
<rect x="823" y="266.0" width="1" height="8.0" fill="#26a69a"/>
<rect x="822" y="267.4" width="3" height="1.7" fill="#26a69a"/>
<rect x="827" y="263.1" width="1" height="16.7" fill="#26a69a"/>
<rect x="826" y="266.0" width="3" height="8.0" fill="#26a69a"/>
<rect x="831" y="264.0" width="1" height="16.7" fill="#ef5350"/>
<rect x="830" y="266.0" width="3" height="13.0" fill="#ef5350"/>
<rect x="834" y="272.0" width="1" height="11.8" fill="#26a69a"/>
<rect x="833" y="278.2" width="3" height="1.1" fill="#26a69a"/>
<rect x="838" y="270.9" width="1" height="8.9" fill="#26a69a"/>
<rect x="837" y="276.1" width="3" height="3.0" fill="#26a69a"/>
<rect x="842" y="269.0" width="1" height="10.8" fill="#ef5350"/>
<rect x="841" y="276.1" width="3" height="1.0" fill="#ef5350"/>
<rect x="846" y="258.1" width="1" height="17.9" fill="#26a69a"/>
<rect x="845" y="265.1" width="3" height="10.9" fill="#26a69a"/>
<rect x="850" y="264.0" width="1" height="10.9" fill="#ef5350"/>
<rect x="849" y="264.9" width="3" height="9.1" fill="#ef5350"/>
<rect x="854" y="269.0" width="1" height="8.9" fill="#ef5350"/>
<rect x="853" y="273.2" width="3" height="2.9" fill="#ef5350"/>
<rect x="857" y="274.0" width="1" height="9.8" fill="#ef5350"/>
<rect x="856" y="274.9" width="3" height="8.9" fill="#ef5350"/>
<rect x="861" y="267.1" width="1" height="16.7" fill="#26a69a"/>
<rect x="860" y="269.9" width="3" height="13.9" fill="#26a69a"/>
<rect x="865" y="263.1" width="1" height="9.8" fill="#26a69a"/>
<rect x="864" y="268.1" width="3" height="3.7" fill="#26a69a"/>
<rect x="869" y="267.1" width="1" height="6.9" fill="#ef5350"/>
<rect x="868" y="267.9" width="3" height="3.9" fill="#ef5350"/>
<rect x="873" y="269.9" width="1" height="17.2" fill="#ef5350"/>
<rect x="872" y="270.9" width="3" height="13.2" fill="#ef5350"/>
<rect x="876" y="280.7" width="1" height="8.1" fill="#26a69a"/>
<rect x="875" y="282.2" width="3" height="1.9" fill="#26a69a"/>
<rect x="880" y="269.9" width="1" height="13.9" fill="#26a69a"/>
<rect x="879" y="270.9" width="3" height="12.0" fill="#26a69a"/>
<rect x="884" y="265.1" width="1" height="11.7" fill="#26a69a"/>
<rect x="883" y="269.9" width="3" height="4.1" fill="#26a69a"/>
<rect x="888" y="265.1" width="1" height="11.7" fill="#ef5350"/>
<rect x="887" y="270.1" width="3" height="6.7" fill="#ef5350"/>
<rect x="892" y="260.1" width="1" height="16.7" fill="#26a69a"/>
<rect x="891" y="264.0" width="3" height="12.8" fill="#26a69a"/>
<rect x="895" y="253.1" width="1" height="12.8" fill="#26a69a"/>
<rect x="894" y="259.0" width="3" height="5.9" fill="#26a69a"/>
<rect x="899" y="254.0" width="1" height="16.9" fill="#ef5350"/>
<rect x="898" y="259.2" width="3" height="7.6" fill="#ef5350"/>
<rect x="903" y="255.1" width="1" height="12.8" fill="#26a69a"/>
<rect x="902" y="257.0" width="3" height="8.1" fill="#26a69a"/>
<rect x="907" y="254.2" width="1" height="11.5" fill="#ef5350"/>
<rect x="906" y="257.3" width="3" height="8.4" fill="#ef5350"/>
<rect x="911" y="261.2" width="1" height="6.7" fill="#26a69a"/>
<rect x="910" y="264.2" width="3" height="1.1" fill="#26a69a"/>
<rect x="914" y="257.3" width="1" height="8.4" fill="#26a69a"/>
<rect x="913" y="260.1" width="3" height="5.6" fill="#26a69a"/>
<rect x="918" y="259.0" width="1" height="10.8" fill="#ef5350"/>
<rect x="917" y="260.1" width="3" height="8.9" fill="#ef5350"/>
<rect x="922" y="265.1" width="1" height="5.6" fill="#ef5350"/>
<rect x="921" y="268.1" width="3" height="2.6" fill="#ef5350"/>
<rect x="926" y="267.3" width="1" height="9.5" fill="#ef5350"/>
<rect x="925" y="270.1" width="3" height="6.7" fill="#ef5350"/>
<rect x="930" y="273.1" width="1" height="5.9" fill="#26a69a"/>
<rect x="929" y="275.1" width="3" height="1.7" fill="#26a69a"/>
<rect x="933" y="273.1" width="1" height="6.8" fill="#26a69a"/>
<rect x="932" y="274.0" width="3" height="2.0" fill="#26a69a"/>
<rect x="937" y="267.3" width="1" height="10.6" fill="#ef5350"/>
<rect x="936" y="274.0" width="3" height="3.1" fill="#ef5350"/>
<rect x="941" y="276.0" width="1" height="7.8" fill="#ef5350"/>
<rect x="940" y="276.8" width="3" height="7.0" fill="#ef5350"/>
<rect x="945" y="274.0" width="1" height="12.0" fill="#26a69a"/>
<rect x="944" y="276.0" width="3" height="7.8" fill="#26a69a"/>
<rect x="949" y="269.0" width="1" height="8.9" fill="#26a69a"/>
<rect x="948" y="275.1" width="3" height="2.0" fill="#26a69a"/>
<rect x="952" y="271.2" width="1" height="8.7" fill="#ef5350"/>
<rect x="951" y="275.1" width="3" height="3.9" fill="#ef5350"/>
<rect x="956" y="273.1" width="1" height="14.8" fill="#ef5350"/>
<rect x="955" y="278.1" width="3" height="7.9" fill="#ef5350"/>
<rect x="960" y="280.1" width="1" height="9.7" fill="#26a69a"/>
<rect x="959" y="284.9" width="3" height="1.1" fill="#26a69a"/>
<rect x="964" y="280.9" width="1" height="8.9" fill="#ef5350"/>
<rect x="963" y="284.9" width="3" height="4.1" fill="#ef5350"/>
<rect x="968" y="287.1" width="1" height="12.0" fill="#ef5350"/>
<rect x="967" y="287.9" width="3" height="10.0" fill="#ef5350"/>
<rect x="971" y="285.2" width="1" height="17.8" fill="#26a69a"/>
<rect x="970" y="287.1" width="3" height="10.9" fill="#26a69a"/>
<rect x="975" y="269.0" width="1" height="20.1" fill="#26a69a"/>
<rect x="974" y="270.1" width="3" height="17.3" fill="#26a69a"/>
<rect x="979" y="269.9" width="1" height="13.0" fill="#ef5350"/>
<rect x="978" y="270.7" width="3" height="11.7" fill="#ef5350"/>
<rect x="983" y="275.1" width="1" height="10.9" fill="#ef5350"/>
<rect x="982" y="281.3" width="3" height="2.8" fill="#ef5350"/>
<rect x="987" y="279.0" width="1" height="7.0" fill="#26a69a"/>
<rect x="986" y="279.9" width="3" height="4.1" fill="#26a69a"/>
<rect x="991" y="275.1" width="1" height="10.9" fill="#26a69a"/>
<rect x="990" y="279.3" width="3" height="1.4" fill="#26a69a"/>
<rect x="994" y="270.1" width="1" height="11.7" fill="#ef5350"/>
<rect x="993" y="279.3" width="3" height="1.7" fill="#ef5350"/>
<rect x="998" y="275.1" width="1" height="9.8" fill="#26a69a"/>
<rect x="997" y="280.1" width="3" height="1.1" fill="#26a69a"/>
<rect x="1002" y="276.0" width="1" height="10.0" fill="#ef5350"/>
<rect x="1001" y="280.1" width="3" height="3.9" fill="#ef5350"/>
<rect x="1006" y="276.0" width="1" height="10.0" fill="#ef5350"/>
<rect x="1005" y="283.2" width="3" height="2.6" fill="#ef5350"/>
<rect x="1010" y="283.2" width="1" height="13.7" fill="#ef5350"/>
<rect x="1009" y="285.2" width="3" height="10.6" fill="#ef5350"/>
<rect x="1013" y="290.2" width="1" height="13.7" fill="#ef5350"/>
<rect x="1012" y="295.2" width="3" height="6.7" fill="#ef5350"/>
<rect x="1017" y="297.1" width="1" height="8.7" fill="#ef5350"/>
<rect x="1016" y="301.9" width="3" height="1.0" fill="#ef5350"/>
<rect x="1021" y="298.2" width="1" height="8.7" fill="#ef5350"/>
<rect x="1020" y="301.9" width="3" height="3.9" fill="#ef5350"/>
<rect x="1025" y="300.4" width="1" height="6.5" fill="#26a69a"/>
<rect x="1024" y="300.4" width="3" height="5.4" fill="#26a69a"/>
</g>
<g id="lines">
<line x1="7" y1="300.5" x2="1185" y2="300.5" stroke="#26a69a" stroke-width="1" stroke-dasharray="1 2" shape-rendering="crispEdges"/>
<rect x="4" y="348.0" width="1181" height="4" fill="#0d47a1"/>
<rect x="682" y="246.0" width="503" height="4" fill="#311b92"/>
<rect x="983" y="286.0" width="202" height="4" fill="#2196f3"/>
</g>
<g id="rsiline">
<clipPath id="cr"><rect x="5" y="402" width="1180" height="156"/></clipPath>
<polyline clip-path="url(#cr)" points="5.4,450.5 9.2,445.3 13.0,442.9 16.8,406.4 20.6,403.6 24.4,400.0 28.2,396.0 32.0,421.4 35.9,407.0 39.7,396.0 43.5,386.0 47.3,388.0 51.1,416.0 54.9,409.0 58.7,414.0 62.5,449.9 66.3,466.9 70.1,471.9 73.9,457.3 77.7,467.3 81.5,458.3 85.3,462.9 89.1,458.9 92.9,468.3 96.7,479.3 100.5,477.5 104.4,481.3 108.2,483.9 112.0,488.5 115.8,491.3 119.6,466.3 123.4,469.9 127.2,479.3 131.0,464.5 134.8,459.3 138.6,465.3 142.4,475.5 146.2,473.5 150.0,480.3 153.8,485.3 157.6,498.4 161.4,489.9 165.2,473.3 169.0,472.9 172.8,478.3 176.7,466.9 180.5,488.5 184.3,494.2 188.1,483.9 191.9,475.9 195.7,472.3 199.5,478.5 203.3,472.3 207.1,493.2 210.9,492.2 214.7,496.8 218.5,489.3 222.3,482.3 226.1,485.3 229.9,509.2 233.7,512.4 237.5,510.8 241.3,509.2 245.2,528.4 249.0,533.8 252.8,535.4 256.6,535.2 260.4,541.8 264.2,544.8 268.0,537.4 271.8,537.2 275.6,495.2 279.4,500.8 283.2,502.4 287.0,505.8 290.8,500.8 294.6,495.2 298.4,494.2 302.2,506.4 306.0,500.4 309.8,483.9 313.6,483.3 317.5,475.3 321.3,479.9 325.1,495.4 328.9,493.4 332.7,497.2 336.5,500.4 340.3,501.8 344.1,485.9 347.9,503.2 351.7,487.3 355.5,485.3 359.3,481.9 363.1,480.3 366.9,502.4 370.7,487.3 374.5,486.3 378.3,495.2 382.1,508.8 386.0,516.2 389.8,517.2 393.6,516.8 397.4,525.4 401.2,518.8 405.0,525.4 408.8,501.2 412.6,503.8 416.4,507.2 420.2,519.8 424.0,528.4 427.8,515.8 431.6,497.2 435.4,502.4 439.2,511.2 443.0,520.2 446.8,523.8 450.6,512.2 454.4,520.2 458.3,527.4 462.1,514.4 465.9,518.4 469.7,521.2 473.5,507.4 477.3,515.8 481.1,520.2 484.9,523.8 488.7,528.8 492.5,535.8 496.3,530.2 500.1,533.8 503.9,505.8 507.7,517.8 511.5,508.2 515.3,474.9 519.1,491.8 522.9,483.5 526.7,486.5 530.6,485.9 534.4,483.9 538.2,485.9 542.0,488.3 545.8,479.5 549.6,456.3 553.4,456.9 557.2,442.3 561.0,448.9 564.8,445.5 568.6,449.9 572.4,446.9 576.2,467.5 580.0,474.9 583.8,471.5 587.6,481.9 591.4,471.9 595.2,484.3 599.1,497.8 602.9,513.4 606.7,514.8 610.5,507.2 614.3,503.2 618.1,485.9 621.9,492.2 625.7,490.5 629.5,504.2 633.3,499.8 637.1,502.2 640.9,504.8 644.7,478.5 648.5,485.3 652.3,455.5 656.1,454.5 659.9,457.9 663.7,481.9 667.5,500.8 671.4,501.4 675.2,515.2 679.0,512.4 682.8,520.2 686.6,512.8 690.4,503.8 694.2,486.3 698.0,489.9 701.8,498.8 705.6,491.5 709.4,496.8 713.2,498.2 717.0,492.8 720.8,495.8 724.6,513.4 728.4,510.8 732.2,508.2 736.0,512.8 739.9,511.2 743.7,524.2 747.5,529.8 751.3,540.8 755.1,548.8 758.9,542.2 762.7,535.4 766.5,536.8 770.3,547.8 774.1,534.8 777.9,536.8 781.7,546.8 785.5,529.4 789.3,533.4 793.1,508.8 796.9,487.9 800.7,477.3 804.5,490.9 808.3,491.3 812.2,491.8 816.0,498.8 819.8,511.8 823.6,510.8 827.4,505.8 831.2,525.8 835.0,523.8 838.8,517.8 842.6,519.2 846.4,487.9 850.2,503.8 854.0,507.8 857.8,519.2 861.6,490.9 865.4,487.3 869.2,491.5 873.0,510.4 876.8,508.8 880.7,486.3 884.5,484.5 888.3,493.8 892.1,471.9 895.9,465.9 899.7,477.3 903.5,464.5 907.3,477.9 911.1,476.9 914.9,469.5 918.7,483.9 922.5,488.9 926.3,496.4 930.1,494.8 933.9,494.2 937.7,497.8 941.5,508.2 945.3,494.2 949.1,490.5 953.0,495.8 956.8,509.2 960.6,509.8 964.4,515.8 968.2,528.2 972.0,499.8 975.8,470.9 979.6,488.9 983.4,492.2 987.2,486.9 991.0,484.3 994.8,487.3 998.6,485.9 1002.4,490.9 1006.2,495.8 1010.0,512.8 1013.8,521.8 1017.6,523.4 1021.5,527.4 1025.3,512.2" fill="none" stroke="#9c27b0" stroke-width="1.1" stroke-linejoin="round"/>
<line x1="774" y1="548.2" x2="1072" y2="522.7" stroke="#b71c1c" stroke-width="2.6" stroke-dasharray="2.6 6.4"/>
</g>
<g id="corr">
<polygon points="5,607.3 5,690.2 5.4,690.2 9.2,690.6 13.0,690.2 16.8,693.8 20.6,694.0 24.4,694.0 28.2,693.4 32.0,693.8 35.9,693.6 39.7,693.0 43.5,692.6 47.3,691.8 51.1,692.0 54.9,692.2 58.7,692.2 62.5,691.8 66.3,689.8 70.1,687.4 73.9,685.4 77.7,682.8 81.5,679.8 85.3,675.8 89.1,665.8 92.9,661.4 96.7,651.8 100.5,641.5 104.4,630.9 108.2,608.9 112.0,596.9 115.8,588.9 119.6,578.0 123.4,586.0 127.2,582.0 131.0,613.9 134.8,624.9 138.6,629.5 142.4,629.1 146.2,628.7 150.0,629.3 153.8,627.9 157.6,627.5 161.4,631.9 165.2,639.5 169.0,642.5 172.8,640.3 176.7,636.3 180.5,636.3 184.3,636.9 188.1,636.3 191.9,635.1 195.7,633.9 199.5,633.9 203.3,630.9 207.1,624.9 210.9,618.9 214.7,620.9 218.5,622.5 222.3,618.3 226.1,617.9 229.9,635.9 233.7,655.8 237.5,666.2 241.3,668.8 245.2,669.2 249.0,671.4 252.8,672.2 256.6,677.4 260.4,682.8 264.2,685.8 268.0,687.4 271.8,689.4 275.6,690.4 279.4,689.4 283.2,688.8 287.0,687.8 290.8,686.8 294.6,683.8 298.4,678.8 302.2,673.8 306.0,668.2 309.8,658.8 313.6,642.9 317.5,626.3 321.3,618.9 325.1,619.9 328.9,621.5 332.7,623.3 336.5,621.9 340.3,631.9 344.1,634.9 347.9,642.9 351.7,639.3 355.5,644.9 359.3,652.2 363.1,660.8 366.9,675.8 370.7,675.8 374.5,675.2 378.3,676.4 382.1,679.8 386.0,683.0 389.8,679.4 393.6,676.2 397.4,675.2 401.2,675.8 405.0,674.2 408.8,661.8 412.6,655.2 416.4,655.2 420.2,659.8 424.0,665.4 427.8,665.4 431.6,663.8 435.4,660.2 439.2,655.8 443.0,662.8 446.8,664.4 450.6,665.4 454.4,671.8 458.3,682.8 462.1,688.8 465.9,689.4 469.7,688.8 473.5,689.2 477.3,689.8 481.1,690.2 484.9,688.8 488.7,685.8 492.5,676.2 496.3,671.8 500.1,648.9 503.9,635.9 507.7,594.9 511.5,583.4 515.3,604.5 519.1,607.5 522.9,614.9 526.7,621.9 530.6,628.9 534.4,634.9 538.2,641.9 542.0,644.9 545.8,645.5 549.6,649.8 553.4,650.4 557.2,645.5 561.0,638.9 564.8,629.9 568.6,615.9 572.4,600.9 576.2,587.9 580.0,582.0 583.8,580.4 587.6,574.6 591.4,574.4 595.2,580.4 599.1,594.9 602.9,610.9 606.7,621.9 610.5,629.9 614.3,633.5 618.1,631.9 621.9,632.5 625.7,634.9 629.5,639.5 633.3,638.9 637.1,641.9 640.9,643.3 644.7,647.5 648.5,646.9 652.3,659.8 656.1,664.4 659.9,665.4 663.7,663.8 667.5,664.8 671.4,665.4 675.2,659.8 679.0,646.9 682.8,648.9 686.6,652.8 690.4,655.8 694.2,659.4 698.0,662.8 701.8,666.8 705.6,668.4 709.4,669.4 713.2,670.2 717.0,669.8 720.8,669.4 724.6,671.8 728.4,671.8 732.2,669.4 736.0,665.8 739.9,661.8 743.7,660.2 747.5,661.8 751.3,670.2 755.1,676.2 758.9,679.2 762.7,680.2 766.5,680.0 770.3,680.2 774.1,681.2 777.9,681.8 781.7,682.2 785.5,682.4 789.3,679.8 793.1,672.8 796.9,665.8 800.7,661.8 804.5,658.2 808.3,654.8 812.2,650.8 816.0,643.9 819.8,634.9 823.6,626.3 827.4,622.9 831.2,641.9 835.0,650.8 838.8,654.8 842.6,657.2 846.4,652.8 850.2,656.4 854.0,662.8 857.8,671.8 861.6,673.4 865.4,674.2 869.2,673.2 873.0,673.4 876.8,671.2 880.7,667.4 884.5,661.8 888.3,652.8 892.1,636.9 895.9,626.9 899.7,618.9 903.5,595.3 907.3,595.9 911.1,592.9 914.9,585.0 918.7,588.3 922.5,591.5 926.3,603.9 930.1,612.9 933.9,620.9 937.7,628.9 941.5,637.5 945.3,642.9 949.1,653.8 953.0,666.8 956.8,671.4 960.6,678.8 964.4,685.8 968.2,686.2 972.0,684.8 975.8,682.2 979.6,679.8 983.4,677.4 987.2,672.8 991.0,655.8 994.8,643.9 998.6,637.5 1002.4,635.3 1006.2,633.9 1010.0,640.9 1013.8,647.9 1017.6,652.2 1021.5,651.4 1025.3,649.5 1025.6,607.3" fill="#ff0000"/>
</g>
<g id="frame" shape-rendering="crispEdges">
<rect x="5" y="401" width="1244" height="1" fill="#e3e3e8"/>
<rect x="5" y="558" width="1244" height="1" fill="#e3e3e8"/>
<rect x="5" y="706" width="1244" height="1" fill="#e3e3e8"/>
<rect x="1185" y="5" width="1" height="729" fill="#e3e3e8"/>
<rect x="81" y="706" width="1" height="4" fill="#d0d3da"/>
<rect x="165" y="706" width="1" height="4" fill="#d0d3da"/>
<rect x="328" y="706" width="1" height="4" fill="#d0d3da"/>
<rect x="416" y="706" width="1" height="4" fill="#d0d3da"/>
<rect x="580" y="706" width="1" height="4" fill="#d0d3da"/>
<rect x="663" y="706" width="1" height="4" fill="#d0d3da"/>
<rect x="827" y="706" width="1" height="4" fill="#d0d3da"/>
<rect x="979" y="706" width="1" height="4" fill="#d0d3da"/>
<rect x="1067" y="706" width="1" height="4" fill="#d0d3da"/>
<rect x="1150" y="706" width="1" height="4" fill="#d0d3da"/>
<rect x="1185" y="61" width="5" height="1" fill="#d0d3da"/>
<rect x="1185" y="120" width="5" height="1" fill="#d0d3da"/>
<rect x="1185" y="179" width="5" height="1" fill="#d0d3da"/>
<rect x="1185" y="239" width="5" height="1" fill="#d0d3da"/>
<rect x="1185" y="298" width="5" height="1" fill="#d0d3da"/>
<rect x="1185" y="358" width="5" height="1" fill="#d0d3da"/>
<rect x="1185" y="455" width="5" height="1" fill="#d0d3da"/>
<rect x="1185" y="508" width="5" height="1" fill="#d0d3da"/>
<rect x="1185" y="563" width="5" height="1" fill="#d0d3da"/>
<rect x="1185" y="607" width="5" height="1" fill="#d0d3da"/>
<rect x="1185" y="651" width="5" height="1" fill="#d0d3da"/>
<rect x="1185" y="695" width="5" height="1" fill="#d0d3da"/>
<rect x="3" y="4" width="1247" height="1" fill="#111111"/>
<rect x="3" y="734" width="1247" height="1" fill="#111111"/>
<rect x="3" y="4" width="1" height="731" fill="#111111"/>
<rect x="1249" y="4" width="1" height="731" fill="#111111"/>
</g>
<g id="axistext">
<text transform="translate(1195.6 65.8) scale(0.955 1)" font-size="12" fill="#2a2e39">1.45000</text>
<text transform="translate(1195.6 124.8) scale(0.955 1)" font-size="12" fill="#2a2e39">1.40000</text>
<text transform="translate(1195.6 183.8) scale(0.955 1)" font-size="12" fill="#2a2e39">1.35000</text>
<text transform="translate(1195.6 243.8) scale(0.955 1)" font-size="12" fill="#2a2e39">1.30000</text>
<text transform="translate(1195.6 302.8) scale(0.955 1)" font-size="12" fill="#2a2e39">1.25000</text>
<text transform="translate(1195.6 362.8) scale(0.955 1)" font-size="12" fill="#2a2e39">1.20000</text>
<text transform="translate(1195.6 459.8) scale(0.955 1)" font-size="12" fill="#2a2e39">60.00</text>
<text transform="translate(1195.6 512.8) scale(0.955 1)" font-size="12" fill="#2a2e39">40.00</text>
<text transform="translate(1195.6 567.8) scale(0.955 1)" font-size="12" fill="#2a2e39">0.50</text>
<text transform="translate(1195.6 611.8) scale(0.955 1)" font-size="12" fill="#2a2e39">0.00</text>
<text transform="translate(1195.6 655.8) scale(0.955 1)" font-size="12" fill="#2a2e39">−0.50</text>
<text transform="translate(1195.6 699.8) scale(0.955 1)" font-size="12" fill="#2a2e39">−1.00</text>
</g>
<g id="timetext">
<text transform="translate(81.3 724.1) scale(0.95 1)" font-size="12" fill="#2a2e39" text-anchor="middle">Apr</text>
<text transform="translate(165.3 724.1) scale(0.95 1)" font-size="12" fill="#2a2e39" text-anchor="middle">May</text>
<text transform="translate(328.3 724.1) scale(0.95 1)" font-size="12" fill="#2a2e39" text-anchor="middle">Jul</text>
<text transform="translate(416.3 724.1) scale(0.95 1)" font-size="12" fill="#2a2e39" text-anchor="middle">Aug</text>
<text transform="translate(580.3 724.1) scale(0.95 1)" font-size="12" fill="#2a2e39" text-anchor="middle">Oct</text>
<text transform="translate(663.3 724.1) scale(0.95 1)" font-size="12" fill="#2a2e39" text-anchor="middle">Nov</text>
<text transform="translate(827.3 724.1) scale(0.95 1)" font-size="12" fill="#2a2e39" font-weight="bold" text-anchor="middle">2021</text>
<text transform="translate(979.3 724.1) scale(0.95 1)" font-size="12" fill="#2a2e39" text-anchor="middle">Mar</text>
<text transform="translate(1067.3 724.1) scale(0.95 1)" font-size="12" fill="#2a2e39" text-anchor="middle">Apr</text>
<text transform="translate(1150.3 724.1) scale(0.95 1)" font-size="12" fill="#2a2e39" text-anchor="middle">May</text>
</g>
<g id="labels">
<path d="M1185 129.0H1241.5a2.5 2.5 0 0 1 2.5 2.5V143.5a2.5 2.5 0 0 1 -2.5 2.5H1185Z" fill="#1976d2"/>
<rect x="1185" y="137.0" width="5" height="1" fill="#ffffff"/>
<text transform="translate(1195.6 141.8) scale(0.955 1)" font-size="12" fill="#ffffff" font-weight="bold">1.38532</text>
<path d="M1185 232.0H1241.5a2.5 2.5 0 0 1 2.5 2.5V246.5a2.5 2.5 0 0 1 -2.5 2.5H1185Z" fill="#b71c1c"/>
<rect x="1185" y="240.0" width="5" height="1" fill="#ffffff"/>
<text transform="translate(1195.6 244.8) scale(0.955 1)" font-size="12" fill="#ffffff" font-weight="bold">1.29990</text>
<path d="M1185 240.0H1241.5a2.5 2.5 0 0 1 2.5 2.5V254.5a2.5 2.5 0 0 1 -2.5 2.5H1185Z" fill="#311b92"/>
<rect x="1185" y="248.0" width="5" height="1" fill="#ffffff"/>
<text transform="translate(1195.6 252.8) scale(0.955 1)" font-size="12" fill="#ffffff" font-weight="bold">1.29198</text>
<path d="M1185 275.8H1241.5a2.5 2.5 0 0 1 2.5 2.5V290.3a2.5 2.5 0 0 1 -2.5 2.5H1185Z" fill="#2196f3"/>
<rect x="1185" y="283.8" width="5" height="1" fill="#ffffff"/>
<text transform="translate(1195.6 288.6) scale(0.955 1)" font-size="12" fill="#ffffff" font-weight="bold">1.25857</text>
<path d="M1185 292.2H1245.5a2.5 2.5 0 0 1 2.5 2.5V320.1a2.5 2.5 0 0 1 -2.5 2.5H1185Z" fill="#26a69a"/>
<rect x="1185" y="300" width="5" height="1" fill="#ffffff"/>
<text transform="translate(1195.6 304.6) scale(0.955 1)" font-size="12" fill="#ffffff" font-weight="bold">1.24870</text>
<text x="1194.5" y="318.6" fill="#c5e8e4" font-size="12" textLength="47" lengthAdjust="spacingAndGlyphs">05:57:58</text>
<path d="M1185 341.7H1241.5a2.5 2.5 0 0 1 2.5 2.5V356.2a2.5 2.5 0 0 1 -2.5 2.5H1185Z" fill="#0d47a1"/>
<rect x="1185" y="349.7" width="5" height="1" fill="#ffffff"/>
<text transform="translate(1195.6 354.5) scale(0.955 1)" font-size="12" fill="#ffffff" font-weight="bold">1.20610</text>
<rect x="1156" y="505" width="27.6" height="17" rx="2.5" fill="#8e1b9c"/>
<text x="1169.8" y="517.8" fill="#ffffff" font-weight="bold" font-size="12" text-anchor="middle" textLength="16" lengthAdjust="spacingAndGlyphs">RSI</text>
<path d="M1184.5 505H1228a2.5 2.5 0 0 1 2.5 2.5V519.5a2.5 2.5 0 0 1 -2.5 2.5H1184.5Z" fill="#8e1b9c"/>
<rect x="1185" y="513" width="5" height="1" fill="#ffffff"/>
<text transform="translate(1195.6 517.8) scale(0.955 1)" font-size="12" fill="#ffffff" font-weight="bold">38.10</text>
<rect x="1112" y="641" width="71.6" height="17" rx="2.5" fill="#ff0000"/>
<text x="1147.7" y="653.8" fill="#ffffff" font-weight="bold" font-size="12" text-anchor="middle" textLength="60" lengthAdjust="spacingAndGlyphs">Correlation</text>
<path d="M1184.5 641H1228.7a2.5 2.5 0 0 1 2.5 2.5V655.5a2.5 2.5 0 0 1 -2.5 2.5H1184.5Z" fill="#ff0000"/>
<rect x="1185" y="649" width="5" height="1" fill="#ffffff"/>
<text transform="translate(1195.3 653.8) scale(0.955 1)" font-size="12" fill="#ffffff" font-weight="bold">−0.48</text>
</g>
<rect x="1201.5" y="11.5" width="31" height="18" rx="3.5" fill="#ffffff" stroke="#d6d9e3" stroke-width="1"/>
<text x="1217.2" y="23.8" font-size="11" fill="#2a2e39" text-anchor="middle" textLength="21" lengthAdjust="spacingAndGlyphs">CAD</text>
<text x="12.5" y="26" font-size="12.5" font-weight="bold" fill="#131722" textLength="75" lengthAdjust="spacingAndGlyphs">USDCAD, 1D,</text>
<g id="tv">
<g fill="#2196f3"><circle cx="8.2" cy="754.8" r="5.2"/><circle cx="14.5" cy="751.4" r="6.8"/><circle cx="23.7" cy="754.6" r="5.4"/><rect x="8.2" y="753" width="15.5" height="7"/></g>
<polyline points="3.6,758 13.1,750.3 19.1,756.5 26.2,750.2" fill="none" stroke="#ffffff" stroke-width="1.3"/>
<circle cx="13.1" cy="750.3" r="1.6" fill="#ffffff"/><circle cx="19.1" cy="756.5" r="1.6" fill="#ffffff"/>
<text x="31" y="757.3" font-size="13" fill="#1c2030" textLength="70.7" lengthAdjust="spacingAndGlyphs">TradingView</text>
</g>
</svg>
</body></html>
